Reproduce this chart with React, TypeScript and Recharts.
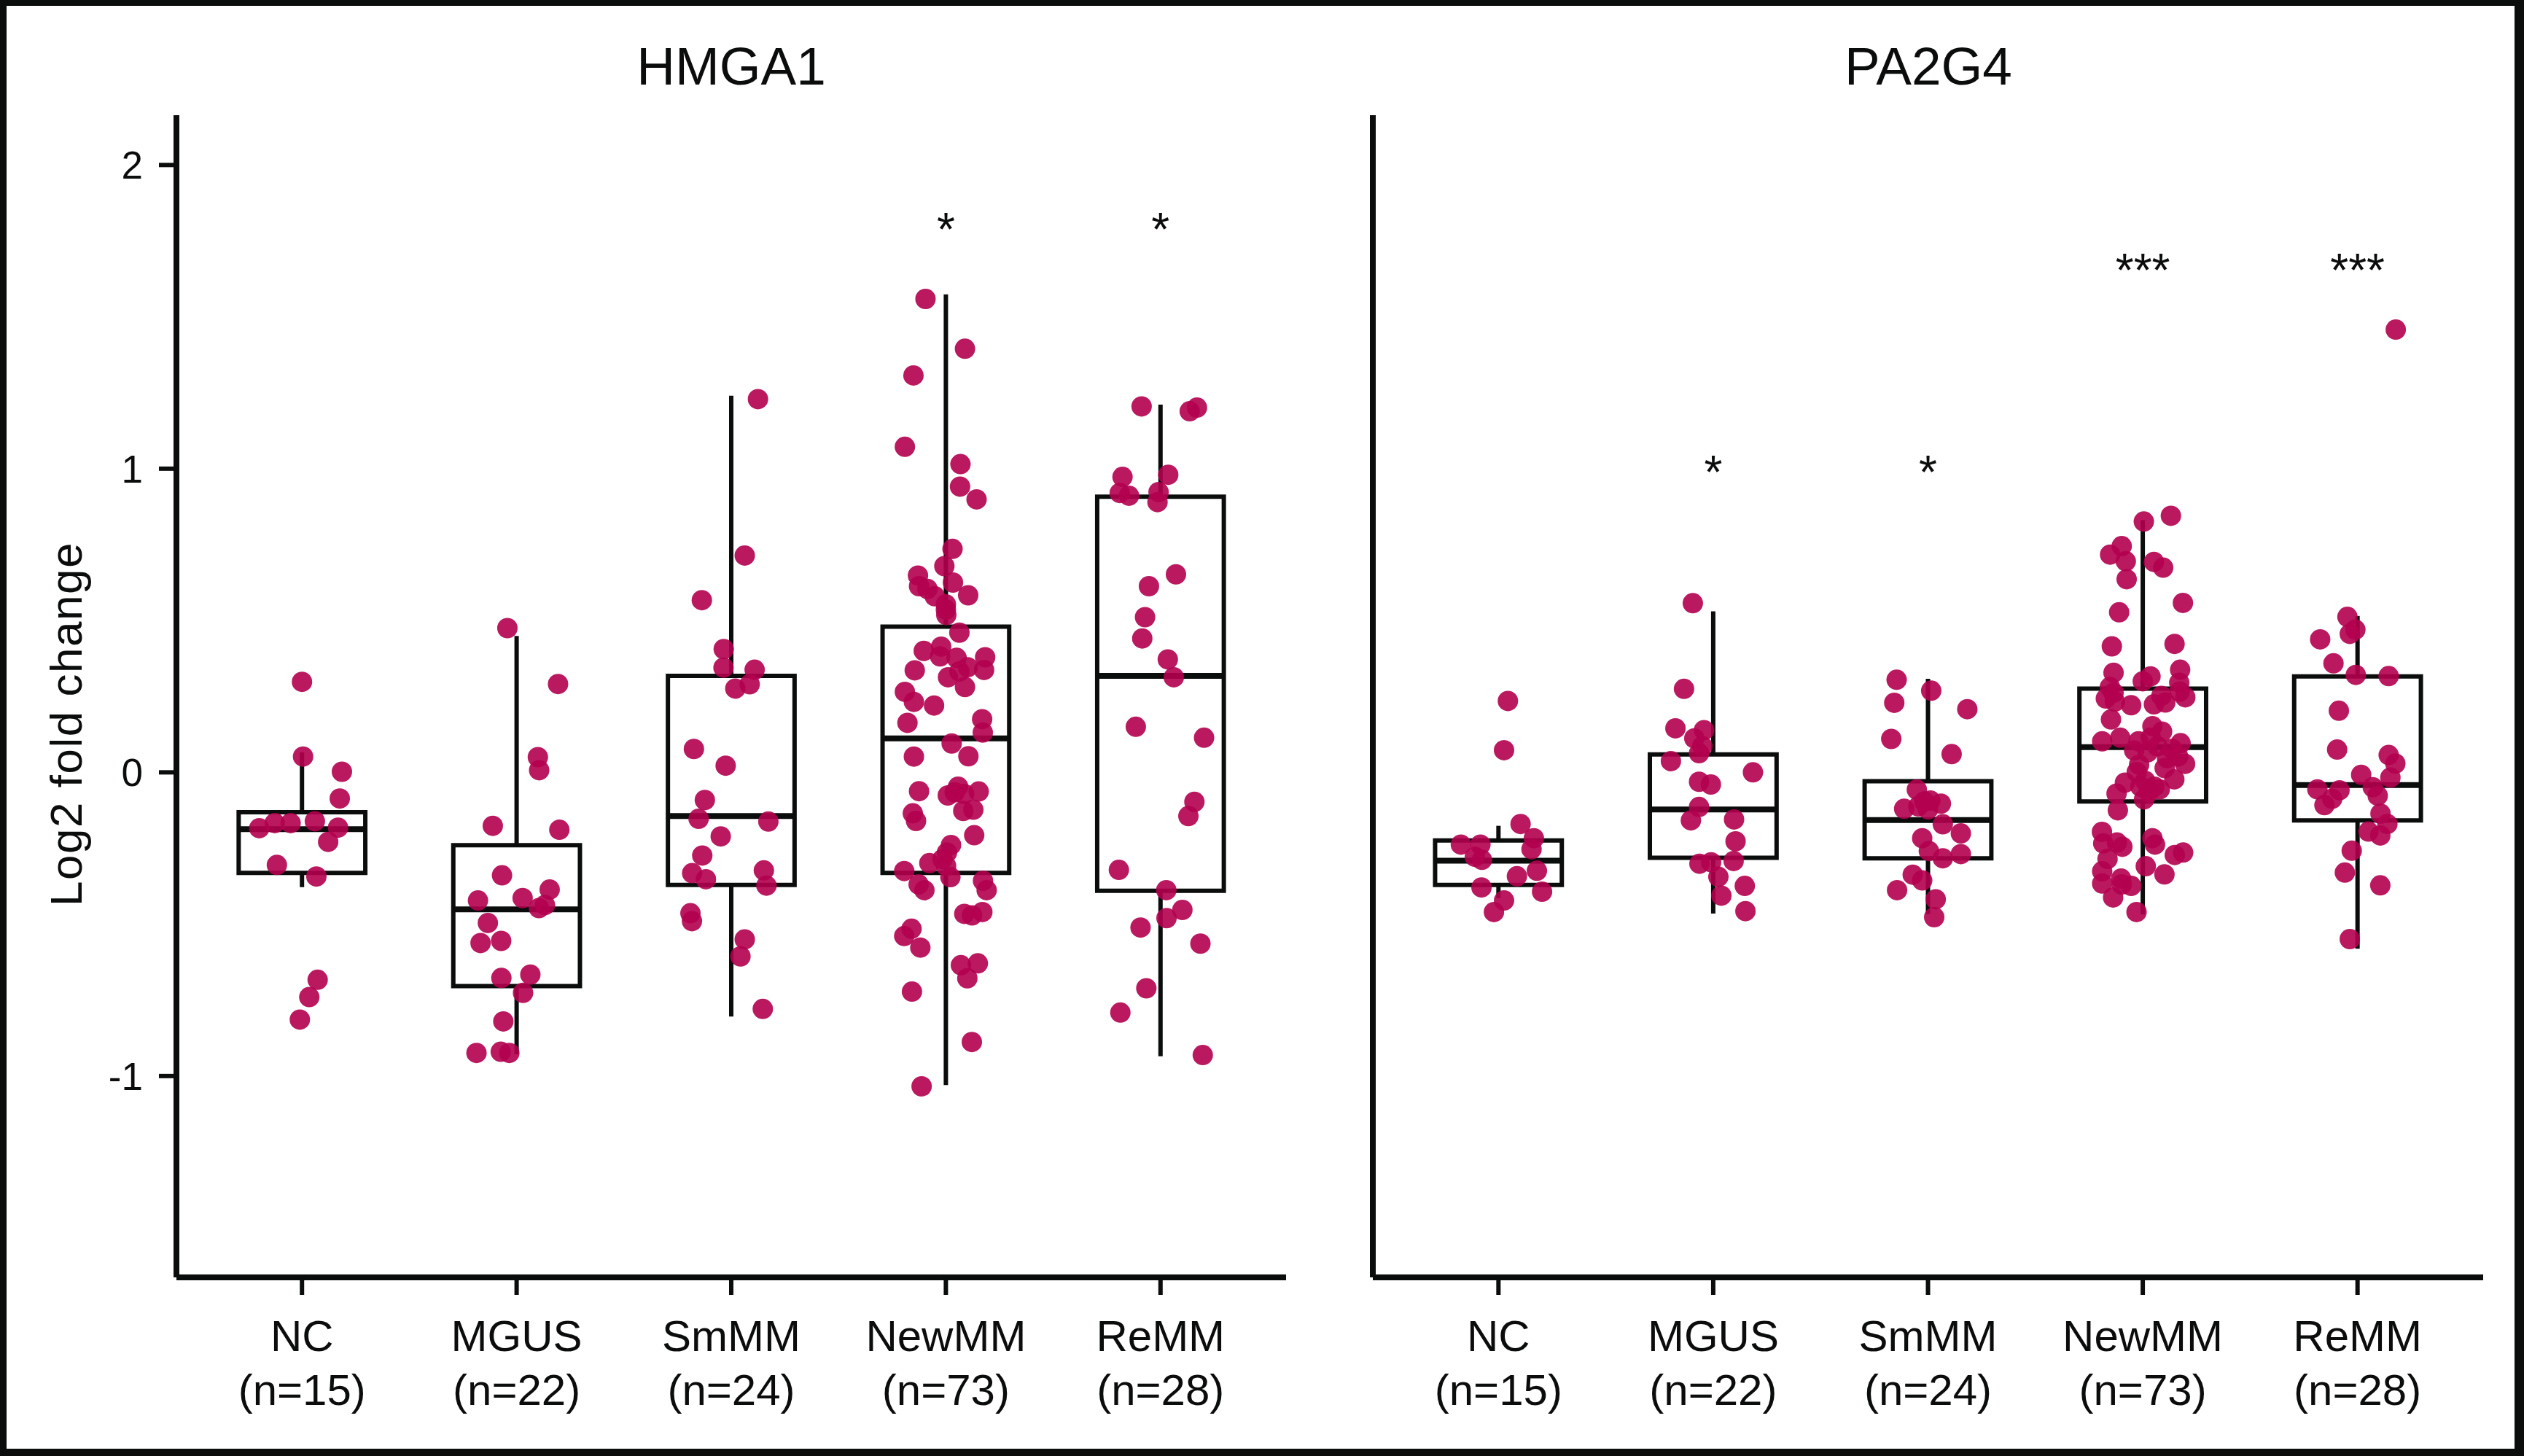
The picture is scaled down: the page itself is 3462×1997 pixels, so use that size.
import React from 'react';
import { ComposedChart, Scatter, XAxis, YAxis, ReferenceArea, ReferenceLine } from 'recharts';

const categories = ['NC', 'MGUS', 'SmMM', 'NewMM', 'ReMM'];
const sampleCounts = [15, 22, 24, 73, 28];
const yTicks = [-1, 0, 1, 2];
const xTicks = [1, 2, 3, 4, 5];
const panelTitles = ['HMGA1', 'PA2G4'];

// each point: [horizontal jitter from category centre, log2 fold change]
const hmgaNC = [[0,0.298],[0.005,0.052],[0.186,0.002],[0.176,-0.086],[-0.199,-0.184],[-0.127,-0.167],[-0.053,-0.167],[0.06,-0.161],[0.168,-0.182],[0.122,-0.229],[-0.117,-0.305],[0.067,-0.343],[0.073,-0.683],[0.034,-0.74],[-0.01,-0.814]];
const hmgaMGUS = [[-0.043,0.475],[0.193,0.291],[0.099,0.05],[0.105,0.007],[-0.111,-0.176],[0.199,-0.189],[-0.068,-0.339],[-0.18,-0.422],[0.028,-0.414],[0.154,-0.386],[0.104,-0.447],[0.132,-0.437],[-0.134,-0.496],[-0.168,-0.562],[-0.072,-0.555],[-0.071,-0.677],[0.064,-0.666],[0.03,-0.726],[-0.062,-0.82],[-0.187,-0.924],[-0.074,-0.92],[-0.034,-0.924]];
const hmgaSmMM = [[0.1245,1.229],[0.063,0.714],[-0.137,0.567],[-0.035,0.406],[-0.036,0.345],[0.109,0.338],[0.086,0.29],[0.019,0.276],[-0.174,0.077],[-0.026,0.022],[-0.123,-0.091],[-0.152,-0.153],[0.173,-0.162],[-0.049,-0.211],[-0.135,-0.274],[-0.182,-0.332],[-0.118,-0.352],[0.152,-0.323],[0.164,-0.373],[-0.19,-0.464],[-0.183,-0.49],[0.063,-0.55],[0.043,-0.606],[0.147,-0.779]];
const hmgaNewMM = [[-0.095,1.559],[0.089,1.395],[-0.151,1.307],[-0.191,1.072],[0.068,1.015],[0.066,0.941],[0.143,0.899],[0.031,0.736],[-0.007,0.679],[-0.13,0.648],[-0.125,0.613],[0.033,0.625],[-0.086,0.604],[-0.052,0.58],[0.104,0.583],[0,0.553],[0,0.536],[0.002,0.518],[0.063,0.46],[-0.103,0.4],[-0.022,0.414],[-0.027,0.382],[0.05,0.377],[0.183,0.379],[-0.145,0.336],[0.102,0.346],[0.063,0.332],[0.178,0.337],[0.01,0.313],[0.089,0.281],[-0.191,0.265],[-0.149,0.232],[-0.055,0.22],[-0.179,0.163],[0.169,0.175],[0.172,0.131],[0.027,0.095],[-0.149,0.052],[0.105,0.053],[-0.125,-0.062],[0.009,-0.076],[0.057,-0.047],[0.085,-0.071],[0.153,-0.063],[0.081,-0.127],[0.128,-0.123],[-0.154,-0.135],[-0.139,-0.16],[0.132,-0.207],[0.024,-0.239],[0.005,-0.264],[-0.077,-0.299],[0.001,-0.308],[-0.194,-0.325],[0.021,-0.345],[-0.127,-0.369],[-0.1,-0.388],[0.173,-0.357],[0.19,-0.388],[0.086,-0.466],[0.122,-0.471],[0.17,-0.46],[-0.16,-0.515],[-0.194,-0.539],[-0.119,-0.577],[0.07,-0.635],[0.149,-0.629],[0.1,-0.678],[-0.158,-0.722],[0.121,-0.888],[-0.113,-1.034],[0.041,-0.066],[-0.016,-0.286]];
const hmgaReMM = [[-0.088,1.205],[0.136,1.189],[0.17,1.201],[-0.177,0.973],[0.036,0.98],[-0.19,0.92],[-0.147,0.911],[-0.009,0.923],[-0.014,0.89],[0.072,0.652],[-0.054,0.613],[-0.072,0.511],[-0.085,0.441],[0.034,0.372],[0.062,0.313],[-0.115,0.15],[0.203,0.114],[0.158,-0.097],[0.13,-0.144],[-0.194,-0.321],[0.027,-0.388],[0.102,-0.453],[0.028,-0.48],[-0.093,-0.511],[0.186,-0.564],[-0.066,-0.711],[-0.187,-0.791],[0.197,-0.931]];

const pa2NC = [[0.044,0.235],[0.026,0.073],[0.103,-0.17],[-0.175,-0.238],[-0.084,-0.238],[0.165,-0.217],[0.154,-0.253],[-0.077,-0.288],[0.086,-0.342],[0.179,-0.324],[-0.079,-0.379],[0.203,-0.393],[0.026,-0.422],[-0.021,-0.46],[-0.11,-0.278]];
const pa2MGUS = [[-0.095,0.557],[-0.136,0.275],[-0.176,0.145],[-0.043,0.139],[-0.088,0.112],[-0.066,0.063],[-0.197,0.037],[0.185,0],[-0.066,-0.031],[-0.011,-0.04],[-0.066,-0.114],[-0.104,-0.158],[0.097,-0.155],[0.104,-0.227],[-0.064,-0.301],[-0.01,-0.296],[0.095,-0.292],[0.024,-0.344],[0.147,-0.374],[0.038,-0.406],[0.15,-0.457],[-0.051,0.086]];
const pa2SmMM = [[-0.146,0.305],[0.015,0.269],[-0.157,0.229],[0.183,0.208],[-0.171,0.11],[0.11,0.06],[-0.052,-0.057],[-0.111,-0.12],[-0.045,-0.112],[0.011,-0.093],[0.06,-0.103],[0,-0.122],[0.069,-0.171],[0.153,-0.201],[-0.027,-0.217],[0.004,-0.259],[0.069,-0.283],[0.153,-0.269],[-0.071,-0.337],[-0.027,-0.356],[-0.144,-0.388],[0.036,-0.418],[0.029,-0.477],[-0.018,-0.096]];
const pa2NewMM = [[0.131,0.845],[0.005,0.826],[-0.098,0.745],[-0.152,0.717],[-0.079,0.695],[0.052,0.693],[0.095,0.674],[-0.075,0.636],[0.187,0.558],[-0.11,0.527],[-0.144,0.415],[0.148,0.423],[-0.136,0.328],[0.036,0.316],[0,0.3],[0.174,0.338],[-0.153,0.281],[0.17,0.295],[0.172,0.266],[0.198,0.247],[-0.172,0.243],[-0.13,0.233],[-0.054,0.221],[0.052,0.224],[0.087,0.252],[0.105,0.23],[-0.148,0.174],[-0.189,0.102],[-0.105,0.114],[-0.02,0.102],[0.037,0.114],[0.176,0.096],[-0.04,0.072],[0.023,0.066],[0.113,0.047],[0.165,0.052],[0.197,0.028],[-0.017,0.025],[0.102,0.014],[0.147,-0.023],[-0.083,-0.034],[0.011,-0.028],[-0.011,-0.047],[0.054,-0.047],[-0.122,-0.07],[0.028,-0.065],[0.006,-0.089],[-0.116,-0.125],[-0.19,-0.196],[0.045,-0.217],[0.057,-0.238],[-0.184,-0.234],[-0.12,-0.231],[-0.095,-0.245],[0.149,-0.272],[0.188,-0.264],[-0.164,-0.285],[0.014,-0.309],[0.101,-0.336],[-0.189,-0.326],[-0.189,-0.366],[-0.101,-0.35],[-0.098,-0.369],[-0.054,-0.374],[-0.138,-0.412],[-0.029,-0.46],[-0.136,0.262],[0.068,0.086],[0.045,0.152],[-0.028,0.001],[0.079,-0.056],[0.136,0.077],[0.09,0.134]];
const pa2ReMM = [[0.178,1.458],[-0.047,0.512],[-0.01,0.47],[-0.036,0.456],[-0.174,0.438],[-0.112,0.359],[-0.008,0.321],[0.145,0.317],[-0.087,0.203],[-0.095,0.075],[0.145,0.057],[0.176,0.029],[0.017,-0.008],[0.153,-0.017],[-0.187,-0.056],[-0.084,-0.059],[0.071,-0.049],[0.094,-0.077],[-0.118,-0.087],[-0.154,-0.108],[0.107,-0.136],[0.139,-0.17],[0.051,-0.195],[0.106,-0.208],[-0.027,-0.258],[-0.059,-0.33],[0.106,-0.372],[-0.036,-0.549]];

// box-plot statistics per category
const hmgaLow = [-0.378, -0.928, -0.804, -1.03, -0.935];
const hmgaQ1 = [-0.331, -0.704, -0.371, -0.331, -0.39];
const hmgaMedian = [-0.187, -0.451, -0.144, 0.112, 0.318];
const hmgaQ3 = [-0.131, -0.24, 0.318, 0.48, 0.908];
const hmgaHigh = [0.066, 0.449, 1.24, 1.574, 1.211];

const pa2Low = [-0.414, -0.465, -0.467, -0.468, -0.581];
const pa2Q1 = [-0.371, -0.281, -0.283, -0.096, -0.158];
const pa2Median = [-0.291, -0.122, -0.157, 0.083, -0.042];
const pa2Q3 = [-0.224, 0.059, -0.029, 0.276, 0.316];
const pa2High = [-0.176, 0.53, 0.308, 0.831, 0.515];

// significance marks: [category index (1-based), y position, text]
const hmgaStars = [[4, 1.823, '*'], [5, 1.823, '*']];
const pa2Stars = [[2, 1.024, '*'], [3, 1.024, '*'], [4, 1.689, '***'], [5, 1.689, '***']];

const FONT = '"Liberation Sans", Arial, sans-serif';
const DOT = '#b3004f';
const INK = '#0b0c0c';
const yDomain = [-1.663, 2.164];
const xDomain = [0.415, 5.585];
const HALF = 0.295;

const toPoints = (groups) =>
  groups.flatMap((g, i) => g.map(([dx, v]) => ({ x: i + 1 + dx, y: v })));
const toStars = (s) => s.map(([c, v, t]) => ({ x: c, y: v, t }));

const Dot = (p) => <circle cx={p.cx} cy={p.cy} r={14} fill={DOT} fillOpacity={0.9} />;
const Star = (p) => (
  <text x={p.cx} y={p.cy + 37} textAnchor="middle" fontSize={64} fontFamily={FONT} fill={INK}>
    {p.payload.t}
  </text>
);

const CategoryTick = (p) => {
  const i = Math.round(p.payload.value) - 1;
  return (
    <g>
      <text x={p.x} y={p.y + 77} textAnchor="middle" fontSize={60} fontFamily={FONT} fill={INK}>
        {categories[i]}
      </text>
      <text x={p.x} y={p.y + 151} textAnchor="middle" fontSize={60} fontFamily={FONT} fill={INK}>
        {`(n=${sampleCounts[i]})`}
      </text>
    </g>
  );
};

const ValueTick = (p) => (
  <text x={p.x - 22} y={p.y} dy="0.355em" textAnchor="end" fontSize={53} fontFamily={FONT} fill={INK}>
    {p.payload.value}
  </text>
);

function boxes(low, q1, med, q3, high) {
  const out = [];
  categories.forEach((_, i) => {
    const c = i + 1;
    out.push(
      <ReferenceLine key={`wh${i}`} segment={[{ x: c, y: q3[i] }, { x: c, y: high[i] }]} stroke={INK} strokeWidth={6} />,
      <ReferenceLine key={`wl${i}`} segment={[{ x: c, y: low[i] }, { x: c, y: q1[i] }]} stroke={INK} strokeWidth={6} />,
      <ReferenceArea key={`b${i}`} x1={c - HALF} x2={c + HALF} y1={q1[i]} y2={q3[i]} fill="#fff" fillOpacity={0} stroke={INK} strokeWidth={6} strokeOpacity={1} />,
      <ReferenceLine key={`m${i}`} segment={[{ x: c - HALF, y: med[i] }, { x: c + HALF, y: med[i] }]} stroke={INK} strokeWidth={8} />
    );
  });
  return out;
}

function Panel({ width, marginLeft, marginRight, yWidth, showY, groups, stats, stars }) {
  return (
    <ComposedChart
      width={width}
      height={1997}
      margin={{ top: 158, right: marginRight, bottom: 45, left: marginLeft }}
    >
      <XAxis
        dataKey="x"
        type="number"
        domain={xDomain}
        ticks={xTicks}
        allowDataOverflow
        interval={0}
        height={200}
        tickSize={24}
        tickMargin={0}
        axisLine={{ stroke: INK, strokeWidth: 8 }}
        tickLine={{ stroke: INK, strokeWidth: 6 }}
        tick={<CategoryTick />}
      />
      <YAxis
        dataKey="y"
        type="number"
        domain={yDomain}
        ticks={yTicks}
        allowDataOverflow
        width={yWidth}
        tickSize={showY ? 24 : 0}
        tickMargin={0}
        axisLine={{ stroke: INK, strokeWidth: 8 }}
        tickLine={showY ? { stroke: INK, strokeWidth: 6 } : false}
        tick={showY ? <ValueTick /> : false}
      />
      {boxes(...stats)}
      <Scatter data={toPoints(groups)} dataKey="y" isAnimationActive={false} shape={Dot} />
      <Scatter data={toStars(stars)} dataKey="y" isAnimationActive={false} shape={Star} />
    </ComposedChart>
  );
}

export default function App() {
  return (
    <div style={{ position: 'absolute', left: 0, top: 0, width: 3462, height: 1997, background: '#fff', overflow: 'hidden' }}>
      <div style={{ position: 'absolute', left: 0, top: 0 }}>
        <Panel
          width={1800}
          marginLeft={92}
          marginRight={36}
          yWidth={150}
          showY
          groups={[hmgaNC, hmgaMGUS, hmgaSmMM, hmgaNewMM, hmgaReMM]}
          stats={[hmgaLow, hmgaQ1, hmgaMedian, hmgaQ3, hmgaHigh]}
          stars={hmgaStars}
        />
      </div>
      <div style={{ position: 'absolute', left: 1800, top: 0 }}>
        <Panel
          width={1662}
          marginLeft={43}
          marginRight={56}
          yWidth={40}
          showY={false}
          groups={[pa2NC, pa2MGUS, pa2SmMM, pa2NewMM, pa2ReMM]}
          stats={[pa2Low, pa2Q1, pa2Median, pa2Q3, pa2High]}
          stars={pa2Stars}
        />
      </div>
      <svg width={3462} height={1997} style={{ position: 'absolute', left: 0, top: 0, pointerEvents: 'none' }}>
        <text x={1003} y={116} textAnchor="middle" fontSize={73} fontFamily={FONT} fill={INK}>{panelTitles[0]}</text>
        <text x={2645} y={116} textAnchor="middle" fontSize={73} fontFamily={FONT} fill={INK}>{panelTitles[1]}</text>
        <text x={112} y={993} transform="rotate(-90 112 993)" textAnchor="middle" fontSize={62} letterSpacing={1.5} fontFamily={FONT} fill={INK}>Log2 fold change</text>
      </svg>
      <div
        style={{
          position: 'absolute',
          left: 0,
          top: 0,
          width: 3462,
          height: 1997,
          boxSizing: 'border-box',
          borderStyle: 'solid',
          borderColor: INK,
          borderWidth: '8px 13px 10px 9px',
          pointerEvents: 'none',
        }}
      />
    </div>
  );
}
